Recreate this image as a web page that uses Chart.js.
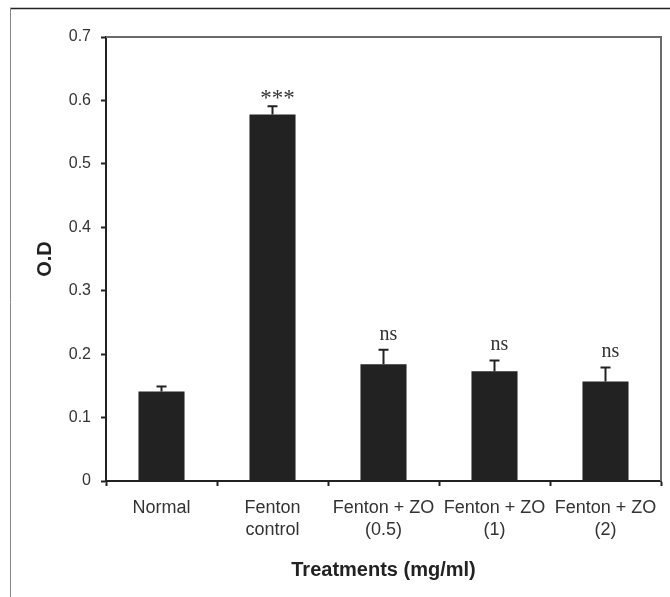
<!DOCTYPE html>
<html>
<head>
<meta charset="utf-8">
<script src="https://cdn.jsdelivr.net/npm/chart.js@4"></script>
<style>
  html, body { margin: 0; padding: 0; background: #fff; }
  canvas { display: block; }
</style>
</head>
<body>
<canvas id="odChart" width="670" height="597"></canvas>
<script>
// Values
const categories = [
    ['Normal'],
    ['Fenton', 'control'],
    ['Fenton + ZO', '(0.5)'],
    ['Fenton + ZO', '(1)'],
    ['Fenton + ZO', '(2)']
];
const odValues = [0.141, 0.578, 0.184, 0.173, 0.157];
const odErrors = [0.008, 0.013, 0.023, 0.017, 0.022];
const significance = ['', '***', 'ns', 'ns', 'ns'];
const yTicks = [0, 0.1, 0.2, 0.3, 0.4, 0.5, 0.6, 0.7];

const sans = '"Liberation Sans", Arial, sans-serif';
const serif = '"Liberation Serif", "Times New Roman", serif';

// Outer frame lines of the figure and the grey top/right border of the plot
const framePlugin = {
    id: 'frame',
    beforeDraw(chart) {
        const ctx = chart.ctx;
        ctx.save();
        ctx.strokeStyle = '#222';
        ctx.lineWidth = 1.5;
        ctx.beginPath();
        ctx.moveTo(10, 8.5);
        ctx.lineTo(chart.width, 8.5);
        ctx.stroke();
        ctx.strokeStyle = '#888';
        ctx.lineWidth = 1;
        ctx.beginPath();
        ctx.moveTo(10.5, 8);
        ctx.lineTo(10.5, chart.height);
        ctx.stroke();
        ctx.restore();
    },
    afterDatasetsDraw(chart) {
        const {ctx, chartArea} = chart;
        ctx.save();
        ctx.strokeStyle = '#6a6a6a';
        ctx.lineWidth = 2;
        ctx.beginPath();
        ctx.moveTo(chartArea.left, chartArea.top);
        ctx.lineTo(chartArea.right, chartArea.top);
        ctx.lineTo(chartArea.right, chartArea.bottom);
        ctx.stroke();
        ctx.restore();
    }
};

// Upper error bars and significance marks, placed through the chart scales
const errorBarPlugin = {
    id: 'errorBars',
    afterDatasetsDraw(chart) {
        const ctx = chart.ctx;
        const y = chart.scales.y;
        const meta = chart.getDatasetMeta(0);
        ctx.save();
        meta.data.forEach((bar, i) => {
            const top = y.getPixelForValue(odValues[i]);
            const cap = y.getPixelForValue(odValues[i] + odErrors[i]);
            ctx.strokeStyle = '#222';
            ctx.lineWidth = 2;
            ctx.beginPath();
            ctx.moveTo(bar.x, top);
            ctx.lineTo(bar.x, cap);
            ctx.moveTo(bar.x - 5, cap);
            ctx.lineTo(bar.x + 5, cap);
            ctx.stroke();

            if (significance[i]) {
                const stars = significance[i] === '***';
                ctx.fillStyle = '#333';
                ctx.font = (stars ? '23px ' : '20px ') + serif;
                ctx.textAlign = 'center';
                ctx.textBaseline = 'alphabetic';
                ctx.fillText(significance[i], bar.x + 5, cap - (stars ? 1 : 10));
            }
        });
        ctx.restore();
    }
};

new Chart(document.getElementById('odChart'), {
    type: 'bar',
    data: {
        labels: categories,
        datasets: [{
            label: 'O.D',
            data: odValues,
            backgroundColor: '#222',
            borderWidth: 0,
            categoryPercentage: 1,
            barPercentage: 0.415
        }]
    },
    options: {
        responsive: false,
        devicePixelRatio: 1,
        animation: false,
        layout: { padding: { left: 0, top: 37, right: 9, bottom: 0 } },
        plugins: {
            legend: { display: false },
            tooltip: { enabled: false }
        },
        scales: {
            x: {
                grid: {
                    drawOnChartArea: false,
                    drawTicks: true,
                    tickLength: 5,
                    tickColor: '#222',
                    tickWidth: 2
                },
                border: { display: true, color: '#222', width: 2 },
                ticks: {
                    color: '#333',
                    padding: 11,
                    maxRotation: 0,
                    autoSkip: false,
                    font: { family: sans, size: 18, lineHeight: 22 / 18 }
                },
                title: {
                    display: true,
                    text: 'Treatments (mg/ml)',
                    color: '#222',
                    font: { family: sans, size: 20, weight: 'bold' },
                    padding: { top: 0, bottom: 15 }
                },
                afterFit: scale => { scale.height = 116; }
            },
            y: {
                min: 0,
                max: 0.7,
                afterBuildTicks: scale => {
                    scale.ticks = yTicks.map(v => ({ value: v }));
                },
                grid: {
                    drawOnChartArea: false,
                    drawTicks: true,
                    tickLength: 5,
                    tickColor: '#222',
                    tickWidth: 2
                },
                border: { display: true, color: '#222', width: 2 },
                ticks: {
                    color: '#333',
                    padding: 10,
                    font: { family: sans, size: 16 },
                    callback: value => String(+value.toFixed(1))
                },
                title: {
                    display: true,
                    text: 'O.D',
                    color: '#222',
                    font: { family: sans, size: 20, weight: 'bold' },
                    padding: { top: 33, bottom: 0 }
                },
                afterFit: scale => { scale.width = 106; }
            }
        }
    },
    plugins: [framePlugin, errorBarPlugin]
});
</script>
</body>
</html>
